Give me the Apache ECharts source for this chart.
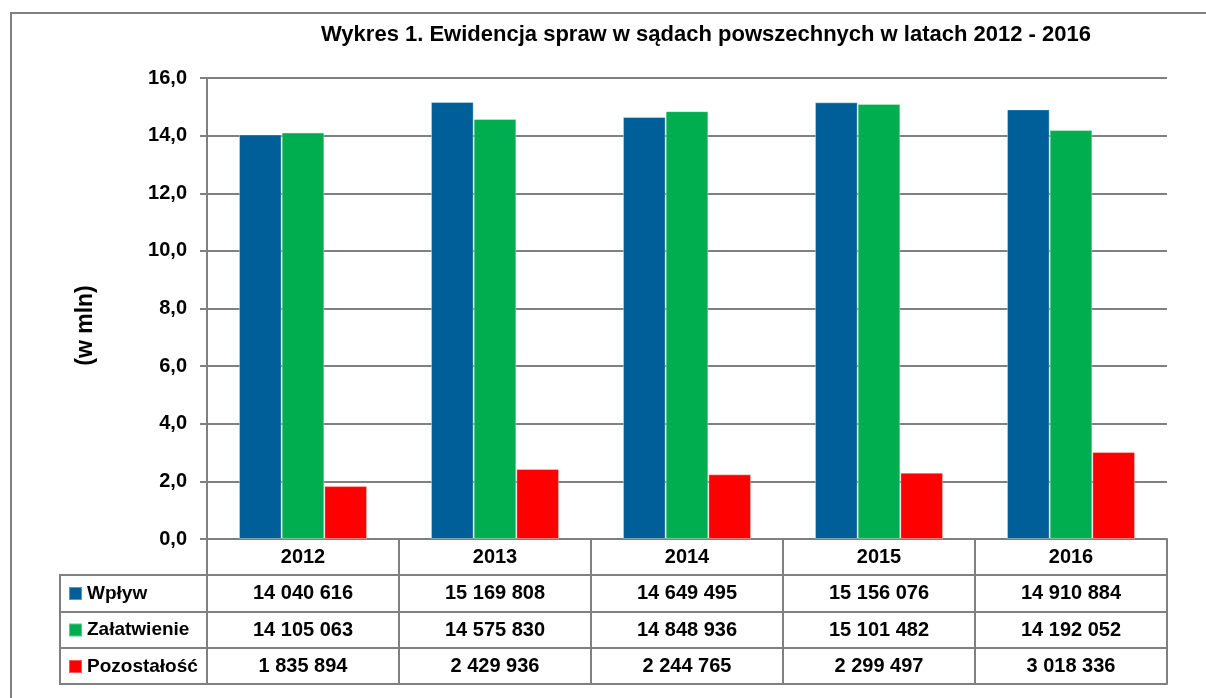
<!DOCTYPE html>
<html>
<head>
<meta charset="utf-8">
<script src="https://cdn.jsdelivr.net/npm/echarts@6/dist/echarts.min.js"></script>
<style>
  html, body { margin: 0; padding: 0; background: #fff; }
  #chart { width: 1206px; height: 698px; }
  /* ramka wykresu (jak w Excelu) */
  .frame {
    position: absolute; left: 10px; top: 12px; width: 1210px; height: 700px;
    border: 2px solid #808080; pointer-events: none;
  }
</style>
</head>
<body>
<div id="chart"></div>
<div class="frame"></div>
<script>
const years = ['2012', '2013', '2014', '2015', '2016'];
const seriesNames = ['Wpływ', 'Załatwienie', 'Pozostałość'];
const wplyw = [14040616, 15169808, 14649495, 15156076, 14910884];
const zalatwienie = [14105063, 14575830, 14848936, 15101482, 14192052];
const pozostalosc = [1835894, 2429936, 2244765, 2299497, 3018336];
const colors = ['#005f98', '#00ae4f', '#ff0000'];

const FONT = "'Liberation Sans Narrow', 'Arial Narrow', 'Liberation Sans', sans-serif";
const GRAY = '#808080';

// 14040616 -> "14 040 616"
function fmt(n) {
  return String(n).replace(/\B(?=(\d{3})+(?!\d))/g, ' ');
}

const allData = [wplyw, zalatwienie, pozostalosc];
const rowOffsets = [36, 73, 109];

const chart = echarts.init(document.getElementById('chart'));

const tableAxes = allData.map((arr, i) => ({
  type: 'category',
  gridIndex: 0,
  position: 'bottom',
  offset: rowOffsets[i],
  data: arr.map(fmt),
  axisLine: { show: true, lineStyle: { color: GRAY, width: 2 } },
  axisTick: { show: false },
  axisLabel: { fontFamily: FONT, fontWeight: 'bold', fontSize: 20, color: '#000', margin: 8, interval: 0 }
}));

const option = {
  animation: false,
  title: {
    text: 'Wykres 1. Ewidencja spraw w sądach powszechnych w latach 2012 - 2016',
    left: 316,
    top: 19,
    textStyle: { fontFamily: FONT, fontWeight: 'bold', fontSize: 22, color: '#000' }
  },
  legend: {
    orient: 'vertical',
    left: 68,
    top: 583.5,
    padding: 0,
    itemWidth: 13,
    itemHeight: 13,
    itemGap: 16.5,
    icon: 'rect',
    selectedMode: false,
    data: seriesNames,
    textStyle: { fontFamily: FONT, fontWeight: 'bold', fontSize: 19, color: '#000', lineHeight: 20 }
  },
  grid: [
    { left: 207, right: 39, top: 78, bottom: 159 },
    // lewa kolumna tabeli (legenda)
    { left: 60, top: 575, width: 147, height: 109, show: true, borderColor: GRAY, borderWidth: 2 }
  ],
  xAxis: [
    {
      type: 'category',
      gridIndex: 0,
      data: years,
      axisLine: { show: true, lineStyle: { color: GRAY, width: 2 } },
      axisTick: { show: true, length: 145, interval: 0, lineStyle: { color: GRAY, width: 2 } },
      axisLabel: { fontFamily: FONT, fontWeight: 'bold', fontSize: 20, color: '#000', margin: 8, interval: 0 }
    },
    ...tableAxes,
    {
      type: 'category',
      gridIndex: 0,
      position: 'bottom',
      offset: 145,
      data: years,
      axisLine: { show: true, lineStyle: { color: GRAY, width: 2 } },
      axisTick: { show: false },
      axisLabel: { show: false }
    },
    { type: 'value', gridIndex: 1, show: false }
  ],
  yAxis: [
    {
      type: 'value',
      gridIndex: 0,
      min: 0,
      max: 16,
      interval: 2,
      name: '(w mln)',
      nameLocation: 'middle',
      nameGap: 110,
      nameTextStyle: { fontFamily: FONT, fontWeight: 'bold', fontSize: 23, color: '#000', padding: [0, 34, 0, 0] },
      axisLine: { show: true, lineStyle: { color: GRAY, width: 2 } },
      axisTick: { show: true, length: 7, lineStyle: { color: GRAY, width: 2 } },
      axisLabel: {
        fontFamily: FONT, fontWeight: 'bold', fontSize: 20, color: '#000', margin: 20,
        formatter: v => v.toFixed(1).replace('.', ',')
      },
      splitLine: { show: true, lineStyle: { color: GRAY, width: 2 } }
    },
    {
      type: 'category',
      gridIndex: 1,
      inverse: true,
      data: seriesNames,
      axisLine: { show: false },
      axisTick: { show: false },
      axisLabel: { show: false },
      splitLine: { show: true, interval: 0, lineStyle: { color: GRAY, width: 2 } }
    }
  ],
  series: allData.map((arr, i) => ({
    name: seriesNames[i],
    type: 'bar',
    xAxisIndex: 0,
    yAxisIndex: 0,
    barGap: '0%',
    barCategoryGap: '33.3%',
    itemStyle: { color: colors[i], borderColor: 'rgba(255,255,255,0.35)', borderWidth: 1 },
    data: arr.map(v => v / 1e6)
  }))
};

chart.setOption(option);
</script>
</body>
</html>
